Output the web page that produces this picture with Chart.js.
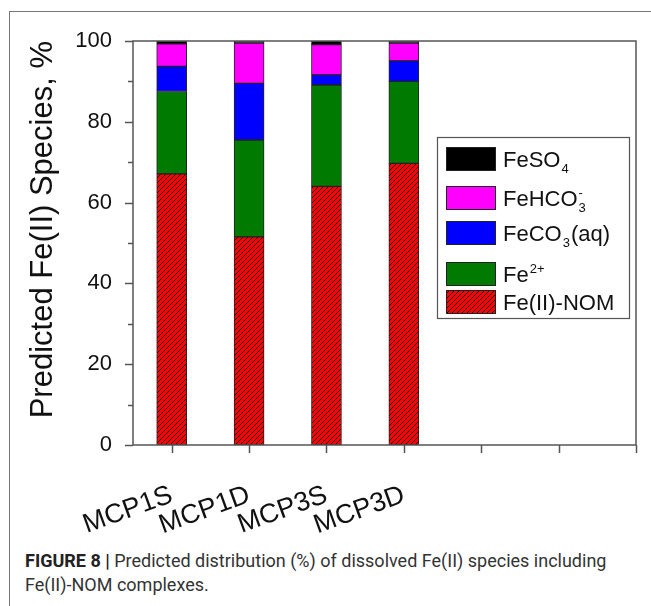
<!DOCTYPE html>
<html>
<head>
<meta charset="utf-8">
<script src="https://cdn.jsdelivr.net/npm/chart.js@4"></script>
<style>
body { margin: 0; background: #fff; }
#wrap { position: relative; width: 651px; height: 606px; overflow: hidden; }
#frame { position: absolute; left: 9px; top: 11px; width: 700px; height: 700px;
  border-top: 1.5px solid #777; border-left: 1.5px solid #777; }
canvas { position: absolute; left: 0; top: 0; }
#cap { position: absolute; left: 25px; top: 549px; width: 624px;
  font: 18px Roboto, "Liberation Sans", sans-serif; color: #333; line-height: 24px; }
#cap b { color: #222; }
</style>
</head>
<body>
<div id="wrap">
  <div id="frame"></div>
  <canvas id="chart" width="651" height="540"></canvas>
  <div id="cap"><b>FIGURE 8 |</b> Predicted distribution (%) of dissolved Fe(II) species including<br>Fe(II)-NOM complexes.</div>
</div>
<script>
// sample sites (x axis has 7 slots, only the first 4 are used)
var categories = ["MCP1S", "MCP1D", "MCP3S", "MCP3D"];
var xSlots = [0, 1, 2, 3, 4, 5, 6];

// % of dissolved Fe(II), bottom to top of each bar
var feNOM = [67.1, 51.5, 64.0, 69.7];
var fe2plus = [20.4, 24.0, 25.1, 20.3];
var feCO3 = [6.2, 14.0, 2.5, 5.1];
var feHCO3 = [5.6, 10.0, 7.5, 4.4];
var feSO4 = [0.7, 0.5, 0.9, 0.5];

var yTicks = [0, 10, 20, 30, 40, 50, 60, 70, 80, 90, 100];

function hatch() {
    var c = document.createElement("canvas");
    c.width = 5; c.height = 5;
    var g = c.getContext("2d");
    g.fillStyle = "#ff0000";
    g.fillRect(0, 0, 5, 5);
    g.strokeStyle = "#000";
    g.lineWidth = 0.9;
    g.beginPath();
    g.moveTo(-1, 6); g.lineTo(6, -1);
    g.moveTo(-1, 1); g.lineTo(1, -1);
    g.moveTo(4, 6); g.lineTo(6, 4);
    g.stroke();
    return g.createPattern(c, "repeat");
}
var nomFill = hatch();

function points(arr) {
    return arr.map((v, i) => ({ x: i, y: v }));
}

var datasets = [
    { label: "Fe(II)-NOM", data: points(feNOM), backgroundColor: nomFill },
    { label: "Fe2+", data: points(fe2plus), backgroundColor: "#007a00" },
    { label: "FeCO3(aq)", data: points(feCO3), backgroundColor: "#0000ff" },
    { label: "FeHCO3-", data: points(feHCO3), backgroundColor: "#ff00ff" },
    { label: "FeSO4", data: points(feSO4), backgroundColor: "#000000" }
];
datasets.forEach(d => {
    d.borderColor = "#222";
    d.borderWidth = 1;
    d.borderSkipped = false;
    d.barThickness = 30;
});

// legend texts as pieces: [text, "n"ormal / "sub" / "sup"]
var legendRows = [
    { ds: 4, y: 159, parts: [["FeSO", "n"], ["4", "sub"]] },
    { ds: 3, y: 198, parts: [["FeHCO", "n"], ["-", "sup", true], ["3", "sub"]] },
    { ds: 2, y: 233, parts: [["FeCO", "n"], ["3", "sub"], ["(aq)", "n"]] },
    { ds: 1, y: 274, parts: [["Fe", "n"], ["2+", "sup"]] },
    { ds: 0, y: 302, parts: [["Fe(II)-NOM", "n"]] }
];

var framePlugin = {
    id: "frame",
    afterDraw(chart) {
        var ctx = chart.ctx, a = chart.chartArea;
        var x = chart.scales.x, y = chart.scales.y;
        ctx.save();
        ctx.strokeStyle = "#555";
        ctx.lineWidth = 1.5;
        ctx.strokeRect(a.left, a.top, a.right - a.left, a.bottom - a.top);
        ctx.beginPath();
        y.ticks.forEach(t => {
            var py = Math.round(y.getPixelForValue(t.value)) + 0.5;
            var len = t.value % 20 === 0 ? 8 : 5;
            ctx.moveTo(a.left - len, py);
            ctx.lineTo(a.left, py);
        });
        x.ticks.forEach(t => {
            var px = Math.round(x.getPixelForValue(t.value)) + 0.5;
            ctx.moveTo(px, a.bottom);
            ctx.lineTo(px, a.bottom + 8);
        });
        ctx.stroke();

        // legend
        ctx.lineWidth = 1.2;
        ctx.strokeStyle = "#555";
        ctx.strokeRect(437.5, 137.5, 192, 181);
        legendRows.forEach(r => {
            var ds = chart.data.datasets[r.ds];
            ctx.fillStyle = ds.backgroundColor;
            ctx.fillRect(446, r.y - 12, 50, 24);
            ctx.strokeStyle = "#222";
            ctx.lineWidth = 1;
            ctx.strokeRect(446.5, r.y - 11.5, 49, 23);
            var tx = 503;
            ctx.fillStyle = "#111";
            ctx.textBaseline = "alphabetic";
            r.parts.forEach(p => {
                if (p[1] === "n") {
                    ctx.font = "22px 'Liberation Sans', Arial";
                    ctx.fillText(p[0], tx, r.y + 8);
                    tx += ctx.measureText(p[0]).width;
                } else {
                    ctx.font = "13px 'Liberation Sans', Arial";
                    var dy = p[1] === "sub" ? 14 : -1;
                    ctx.fillText(p[0], tx + 1, r.y + dy);
                    if (!p[2]) tx += ctx.measureText(p[0]).width + 2;
                }
            });
        });
        ctx.restore();
    }
};

new Chart("chart", {
    type: "bar",
    data: { datasets: datasets },
    options: {
        responsive: false,
        animation: false,
        layout: { padding: { top: 41, right: 15, left: 0, bottom: 0 } },
        plugins: { legend: { display: false }, tooltip: { enabled: false } },
        scales: {
            x: {
                type: "linear",
                stacked: true,
                offset: false,
                min: -0.5,
                max: 6,
                grid: { display: false, offset: false },
                border: { display: false },
                afterBuildTicks: s => { s.ticks = xSlots.map(v => ({ value: v })); },
                afterFit: s => { s.height = 95; s.paddingLeft = 0; s.paddingRight = 0; },
                ticks: {
                    autoSkip: false,
                    minRotation: 20,
                    maxRotation: 20,
                    padding: 26,
                    color: "#111",
                    font: { family: "'Liberation Sans', Arial", size: 27 },
                    callback: v => categories[v] || ""
                }
            },
            y: {
                stacked: true,
                min: 0,
                max: 100,
                grid: { display: false },
                border: { display: false },
                afterBuildTicks: s => { s.ticks = yTicks.map(v => ({ value: v })); },
                afterFit: s => { s.width = 133; s.paddingTop = 0; s.paddingBottom = 0; },
                ticks: {
                    padding: 13,
                    color: "#111",
                    font: { family: "'Liberation Sans', Arial", size: 22 },
                    callback: v => (v % 20 === 0 ? v : "")
                },
                title: {
                    display: true,
                    text: "Predicted Fe(II) Species, %",
                    color: "#111",
                    align: "end",
                    padding: { top: 25, bottom: 0 },
                    font: { family: "'Liberation Sans', Arial", size: 31 }
                }
            }
        }
    },
    plugins: [framePlugin]
});
</script>
</body>
</html>
